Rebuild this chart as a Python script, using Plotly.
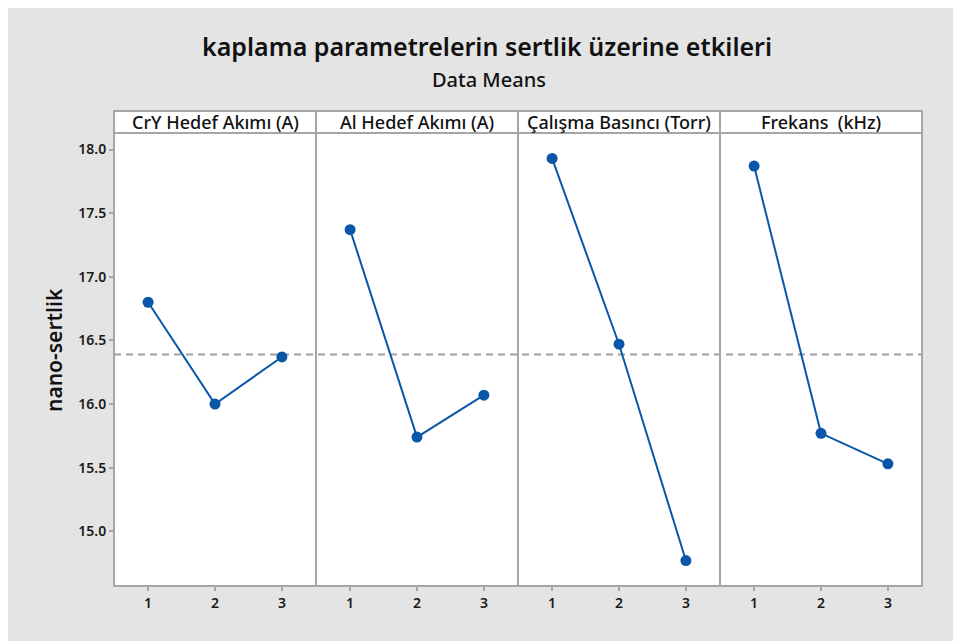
import plotly.graph_objects as go
from plotly.subplots import make_subplots

factors = ["CrY Hedef Akımı (A)", "Al Hedef Akımı (A)", "Çalışma Basıncı (Torr)", "Frekans  (kHz)"]
levels = [1, 2, 3]
cry_means = [16.80, 16.00, 16.37]
al_means = [17.37, 15.74, 16.07]
basinc_means = [17.93, 16.47, 14.77]
frekans_means = [17.87, 15.77, 15.53]
series = [cry_means, al_means, basinc_means, frekans_means]
overall_mean = 16.39
y_ticks = [15.0, 15.5, 16.0, 16.5, 17.0, 17.5, 18.0]
y_ticktext = ["15.0", "15.5", "16.0", "16.5", "17.0", "17.5", "18.0"]

FONT = "Noto Sans"
GRID = "#a6a6a6"
BLUE = "#0a56a8"
BG = "#e4e4e4"
PH = 453  # plot height in px

fig = make_subplots(rows=1, cols=4, shared_yaxes=True, horizontal_spacing=0)

for i, vals in enumerate(series):
    fig.add_trace(go.Scatter(x=levels, y=vals, mode="lines+markers",
                             line=dict(color=BLUE, width=2),
                             marker=dict(color=BLUE, size=11),
                             cliponaxis=False, showlegend=False), row=1, col=i + 1)

for i in range(4):
    fig.update_xaxes(range=[0.49, 3.51], tickvals=levels, ticks="outside", ticklen=4,
                     tickcolor=GRID, tickwidth=2, showline=False,
                     showgrid=False, zeroline=False,
                     tickfont=dict(family=FONT, size=14, color="#1a1a1a", weight=600), row=1, col=i + 1)
    fig.update_yaxes(range=[14.57, 18.13], tickvals=y_ticks, ticktext=y_ticktext,
                     showline=False, showgrid=False, zeroline=False, row=1, col=i + 1)
    xd = "x domain" if i == 0 else f"x{i+1} domain"
    fig.add_shape(type="rect", xref=xd, yref="paper", x0=0, x1=1, y0=0, y1=1,
                  line=dict(color=GRID, width=2), fillcolor="rgba(0,0,0,0)", layer="above")
    fig.add_shape(type="rect", xref=xd, yref="paper", x0=0, x1=1, y0=1, y1=1 + 22 / PH,
                  line=dict(color=GRID, width=2), fillcolor="white", layer="above")
    fig.add_annotation(text=factors[i], xref=xd, yref="paper", x=0.5, y=1 + 11 / PH,
                       showarrow=False, font=dict(family=FONT, size=18, color="#111", weight=500),
                       xanchor="center", yanchor="middle")

fig.update_yaxes(ticks="outside", ticklen=4, tickcolor=GRID, tickwidth=2,
                 tickfont=dict(family=FONT, size=14, color="#1a1a1a", weight=600), row=1, col=1)
for c in range(2, 5):
    fig.update_yaxes(showticklabels=False, ticks="", row=1, col=c)

fig.add_shape(type="line", xref="paper", yref="y", x0=0, x1=1, y0=overall_mean, y1=overall_mean,
              line=dict(color="#a0a0a0", width=2, dash="7px,5px"), layer="below")

# page coords = figure coords + 8 (body margin)
def px(xp):
    return (xp - 8 - 106) / 808

def py(yp):
    return (578 - (yp - 8)) / PH

fig.add_annotation(text="kaplama parametrelerin sertlik üzerine etkileri", xref="paper", yref="paper",
                   x=px(487), y=py(46), showarrow=False,
                   font=dict(family=FONT, size=25, color="#111", weight=600), xanchor="center", yanchor="middle")
fig.add_annotation(text="Data Means", xref="paper", yref="paper",
                   x=px(489), y=py(79), showarrow=False,
                   font=dict(family=FONT, size=20, color="#111", weight=500), xanchor="center", yanchor="middle")
fig.add_annotation(text="nano-sertlik", xref="paper", yref="paper",
                   x=px(54), y=py(350), showarrow=False, textangle=-90,
                   font=dict(family=FONT, size=21, color="#111", weight=600), xanchor="center", yanchor="middle")

fig.update_layout(width=953, height=633, margin=dict(l=106, r=39, t=125, b=55),
                  paper_bgcolor=BG, plot_bgcolor="white", showlegend=False)

fig.write_html("out.html")
